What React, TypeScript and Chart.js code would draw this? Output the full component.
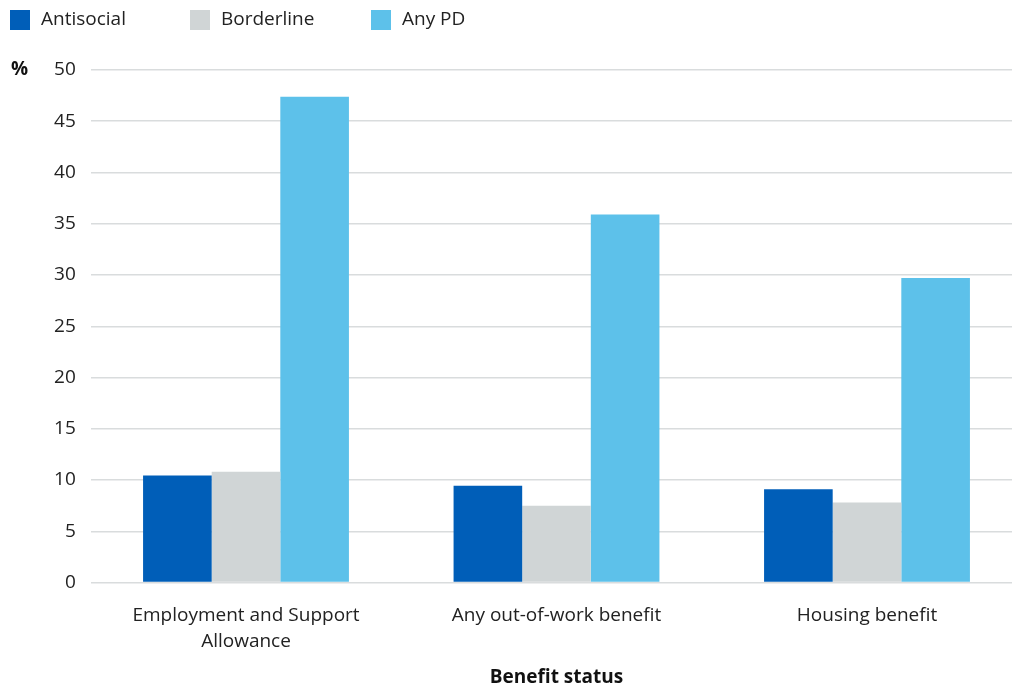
import React, { useEffect, useRef } from "react";
import { Chart, registerables } from "chart.js";

Chart.register(...registerables);

const categories: (string | string[])[] = [
  ["Employment and Support", "Allowance"],
  "Any out-of-work benefit",
  "Housing benefit",
];
const seriesNames = ["Antisocial", "Borderline", "Any PD"];
const antisocial = [10.45, 9.45, 9.1];
const borderline = [10.8, 7.5, 7.8];
const anyPD = [47.4, 35.9, 29.7];
const yTickValues = [0, 5, 10, 15, 20, 25, 30, 35, 40, 45, 50];
const seriesColors = ["#005EB8", "#D0D5D6", "#5DC1EA"];
const yUnit = "%";
const xTitle = "Benefit status";

const FONT = "'Open Sans', sans-serif";
const PLOT_RIGHT = 1022.25; // plot area runs past the canvas edge, as in the reference

const widenPlugin = {
  id: "widen",
  afterLayout(chart: any) {
    const area = chart.chartArea;
    area.right = PLOT_RIGHT;
    area.width = area.right - area.left;
    const x = chart.scales.x;
    x.right = PLOT_RIGHT;
    x.width = x.right - x.left;
    x.configure();
    const y = chart.scales.y;
    y.configure();
  },
};

const overlayPlugin = {
  id: "overlay",
  afterDraw(chart: any) {
    const ctx = chart.ctx;
    ctx.save();
    // legend
    const boxX = [10, 190, 371];
    ctx.font = `19px ${FONT}`;
    ctx.textBaseline = "middle";
    ctx.textAlign = "left";
    seriesNames.forEach((name, i) => {
      ctx.fillStyle = seriesColors[i];
      ctx.fillRect(boxX[i], 10, 20, 20);
      ctx.fillStyle = "#222222";
      ctx.fillText(name, boxX[i] + 31, 20);
    });
    // y unit
    ctx.font = `bold 19px ${FONT}`;
    ctx.fillStyle = "#111111";
    ctx.textBaseline = "middle";
    ctx.fillText(yUnit, 11, chart.scales.y.getPixelForValue(50));
    // x title
    ctx.textAlign = "center";
    ctx.textBaseline = "alphabetic";
    const area = chart.chartArea;
    ctx.fillText(xTitle, (area.left + area.right) / 2, 683);
    ctx.restore();
  },
};

export default function App() {
  const ref = useRef<HTMLCanvasElement>(null);
  useEffect(() => {
    document.body.style.margin = "0";
    const canvas = ref.current!;
    const chart = new Chart(canvas, {
      type: "bar",
      data: {
        labels: categories,
        datasets: [
          { label: seriesNames[0], data: antisocial, backgroundColor: seriesColors[0] },
          { label: seriesNames[1], data: borderline, backgroundColor: seriesColors[1] },
          { label: seriesNames[2], data: anyPD, backgroundColor: seriesColors[2] },
        ],
      },
      options: {
        animation: false,
        responsive: false,
        maintainAspectRatio: false,
        layout: { padding: { top: 70, right: 0, left: 0, bottom: 0 } },
        datasets: { bar: { barPercentage: 1, categoryPercentage: 0.663 } },
        plugins: { legend: { display: false }, tooltip: { enabled: false } },
        scales: {
          x: {
            grid: { display: false, drawTicks: false },
            border: { display: false },
            ticks: {
              color: "#222222",
              font: { family: FONT, size: 19, lineHeight: 1.37 },
              padding: 20,
              maxRotation: 0,
              autoSkip: false,
            },
            afterFit: (s: any) => {
              s.height = 100.5;
            },
          },
          y: {
            min: 0,
            max: 50,
            afterBuildTicks: (s: any) => {
              s.ticks = yTickValues.map((v) => ({ value: v }));
            },
            grid: { color: "#D9DCDD", lineWidth: 1.5, drawTicks: false },
            border: { display: false },
            ticks: {
              color: "#222222",
              font: { family: FONT, size: 19 },
              padding: 15,
            },
            afterFit: (s: any) => {
              s.width = 90.75;
            },
          },
        },
      },
      plugins: [widenPlugin, overlayPlugin],
    });
    return () => chart.destroy();
  }, []);
  return <canvas ref={ref} width={1012} height={683} style={{ display: "block" }} />;
}
